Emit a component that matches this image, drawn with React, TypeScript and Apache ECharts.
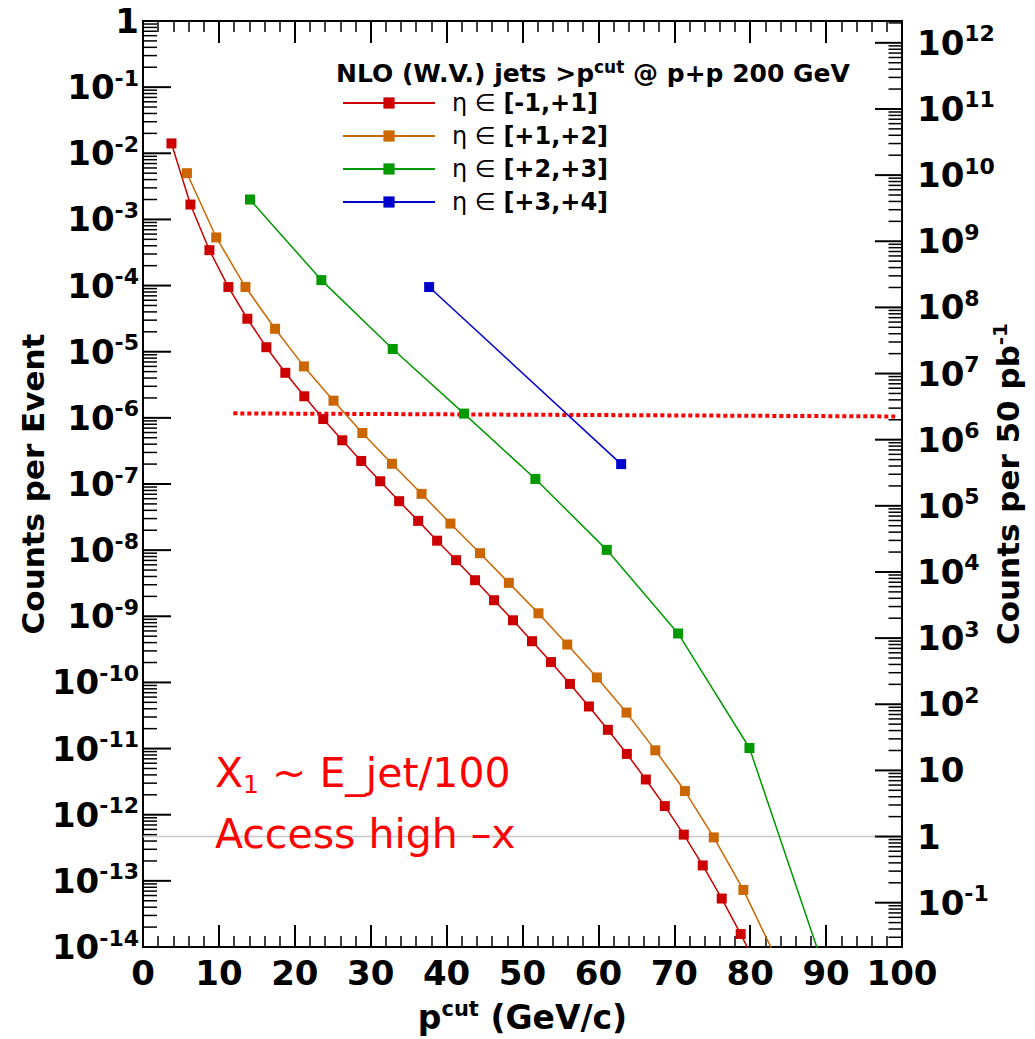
import React, { useEffect, useRef } from 'react';
import * as echarts from 'echarts';

// ---- data (x = p_cut in GeV/c, y = counts per event) ----
const redX = [3.75, 6.25, 8.75, 11.25, 13.75, 16.25, 18.75, 21.25, 23.75, 26.25, 28.75, 31.25, 33.75, 36.25, 38.75, 41.25, 43.75, 46.25, 48.75, 51.25, 53.75, 56.25, 58.75, 61.25, 63.75, 66.25, 68.75, 71.25, 73.75, 76.25, 78.75, 81.25];
const redY = [1.41e-2, 1.68e-3, 3.43e-4, 9.5e-5, 3.15e-5, 1.17e-5, 4.8e-6, 2.12e-6, 9.6e-7, 4.58e-7, 2.23e-7, 1.1e-7, 5.5e-8, 2.77e-8, 1.39e-8, 7.05e-9, 3.51e-9, 1.75e-9, 8.7e-10, 4.2e-10, 2.03e-10, 9.5e-11, 4.33e-11, 1.92e-11, 8.3e-12, 3.41e-12, 1.35e-12, 5.0e-13, 1.71e-13, 5.4e-14, 1.57e-14, 4.2e-15];

const orangeX = [5.79, 9.65, 13.5, 17.4, 21.2, 25.1, 28.9, 32.8, 36.7, 40.5, 44.4, 48.2, 52.1, 55.9, 59.8, 63.7, 67.5, 71.4, 75.2, 79.1, 83.0];
const orangeY = [5.0e-3, 5.34e-4, 9.5e-5, 2.22e-5, 6.0e-6, 1.82e-6, 5.9e-7, 2.02e-7, 7.1e-8, 2.52e-8, 9.0e-9, 3.2e-9, 1.11e-9, 3.74e-10, 1.19e-10, 3.5e-11, 9.4e-12, 2.28e-12, 4.54e-13, 7.3e-14, 8.5e-15];

const greenX = [14.1, 23.5, 32.9, 42.3, 51.7, 61.1, 70.5, 79.9, 89.3];
const greenY = [2.0e-3, 1.21e-4, 1.1e-5, 1.16e-6, 1.19e-7, 1.01e-8, 5.5e-10, 1.02e-11, 6.6e-15];

const blueX = [37.7, 63.0];
const blueY = [9.5e-5, 2.0e-7];

// red dotted threshold line
const dotX = [11.9, 99.1];
const dotY = [1.17e-6, 1.05e-6];

// "1 count" reference line on the right axis
const oneCountX = [0, 100];
const oneCountY = [1, 1];

const seriesNames = ['[-1,+1]', '[+1,+2]', '[+2,+3]', '[+3,+4]'];
const seriesColors = ['#cc0000', '#cc6600', '#009900', '#0000cc'];

const xTickLabels = [0, 10, 20, 30, 40, 50, 60, 70, 80, 90, 100];
const leftDecades = [-14, -13, -12, -11, -10, -9, -8, -7, -6, -5, -4, -3, -2, -1, 0];
const rightDecades = [-1, 0, 1, 2, 3, 4, 5, 6, 7, 8, 9, 10, 11, 12];

const LEFT_MIN = 1e-14;
const LEFT_MAX = 1;
const RIGHT_OFFSET = 12.33; // decades between right and left axes
const RIGHT_MIN = Math.pow(10, -14 + RIGHT_OFFSET);
const RIGHT_MAX = Math.pow(10, RIGHT_OFFSET);

const FONT = 'DejaVu Sans';

const zip = (xs: number[], ys: number[]) => xs.map((x, i) => [x, ys[i]]);

// tick items: [x edge, value, isMajor]
const leftTicks: number[][] = [];
leftDecades.forEach((n) => leftTicks.push([0, Math.pow(10, n), 1]));
for (let n = -14; n < 0; n++) for (let k = 2; k <= 9; k++) leftTicks.push([0, k * Math.pow(10, n), 0]);
const rightTicks: number[][] = [];
rightDecades.forEach((n) => rightTicks.push([100, Math.pow(10, n), 1]));
for (let n = -2; n <= 12; n++)
  for (let k = 2; k <= 9; k++) {
    const v = k * Math.pow(10, n);
    if (v > RIGHT_MIN && v < RIGHT_MAX) rightTicks.push([100, v, 0]);
  }

const decadeLabel = (v: number, right: boolean) => {
  const e = Math.round(Math.log10(v));
  if (e === 0) return '{b|1}';
  if (right && e === 1) return '{b|10}';
  return `{b|10}{s|${e}}`;
};

const labelRich = {
  b: { fontFamily: FONT, fontWeight: 'bold', fontSize: 34, lineHeight: 40, fill: '#000', color: '#000' },
  s: { fontFamily: FONT, fontWeight: 'bold', fontSize: 22, lineHeight: 24, verticalAlign: 'top', fill: '#000', color: '#000' },
};

const makeTickRenderer = (right: boolean) => (_p: any, api: any) => {
  const pt = api.coord([api.value(0), api.value(1)]);
  const major = api.value(2) === 1;
  const dir = right ? -1 : 1;
  const len = major ? (right ? 27 : 28) : right ? 13.5 : 14;
  const children: any[] = [
    {
      type: 'line',
      shape: { x1: pt[0], y1: pt[1], x2: pt[0] + dir * len, y2: pt[1] },
      style: { stroke: '#000', lineWidth: major ? 2 : 1.5 },
    },
  ];
  if (major) {
    children.push({
      type: 'text',
      x: right ? pt[0] + 15 : pt[0] - 4,
      y: pt[1],
      style: {
        text: decadeLabel(api.value(1), right),
        rich: labelRich,
        align: right ? 'left' : 'right',
        verticalAlign: 'middle',
        fill: '#000',
      },
    });
  }
  return { type: 'group', children };
};

export default function App() {
  const ref = useRef<HTMLDivElement>(null);
  useEffect(() => {
    if (!ref.current) return;
    const chart = echarts.init(ref.current, null, { renderer: 'svg' });
    const lineSeries = [
      [redX, redY],
      [orangeX, orangeY],
      [greenX, greenY],
      [blueX, blueY],
    ].map(([xs, ys], i) => ({
      name: seriesNames[i],
      type: 'line',
      data: zip(xs as number[], ys as number[]),
      symbol: 'rect',
      symbolSize: 10,
      showAllSymbol: true,
      clip: true,
      z: 4,
      lineStyle: { color: seriesColors[i], width: 1.5 },
      itemStyle: { color: seriesColors[i] },
    }));

    const axisLineStyle = { color: '#000', width: 2 };
    const xCommon = {
      type: 'value',
      min: 0,
      max: 100,
      interval: 10,
      axisLine: { show: true, onZero: false, lineStyle: axisLineStyle },
      axisTick: { show: true, inside: true, length: 22, lineStyle: { color: '#000', width: 2 } },
      minorTick: { show: true, splitNumber: 5, length: 11, lineStyle: { color: '#000', width: 1.5 } },
      splitLine: { show: false },
      minorSplitLine: { show: false },
    };
    const yCommon = {
      type: 'log',
      logBase: 10,
      axisLine: { show: true, onZero: false, lineStyle: axisLineStyle },
      axisTick: { show: false },
      axisLabel: { show: false },
      minorTick: { show: false },
      splitLine: { show: false },
      nameLocation: 'middle',
      nameRotate: 90,
      nameMoveOverlap: false,
    };

    chart.setOption({
      animation: false,
      backgroundColor: '#fff',
      grid: { left: 143, top: 21, right: 133, bottom: 92, containLabel: false, outerBoundsMode: 'none' },
      title: {
        text: '{b|NLO (W.V.) jets >p}{s|cut}{b| @ p+p 200 GeV}',
        left: 331,
        top: 53,
        textStyle: {
          rich: {
            b: { fontFamily: FONT, fontWeight: 'bold', fontSize: 25, lineHeight: 30, color: '#000' },
            s: { fontFamily: FONT, fontWeight: 'bold', fontSize: 17, lineHeight: 16, verticalAlign: 'top', color: '#000' },
          },
        },
      },
      legend: {
        orient: 'vertical',
        left: 337,
        top: 84,
        itemWidth: 92,
        itemHeight: 14,
        itemGap: 5,
        selectedMode: false,
        data: seriesNames,
        formatter: (n: string) => `{r|η ∈ }{b|${n}}`,
        textStyle: {
          lineHeight: 28,
          rich: {
            r: { fontFamily: FONT, fontSize: 24, lineHeight: 28, color: '#000', padding: [0, 0, 0, 12] },
            b: { fontFamily: FONT, fontWeight: 'bold', fontSize: 24, lineHeight: 28, color: '#000' },
          },
        },
      },
      xAxis: [
        {
          ...xCommon,
          position: 'bottom',
          axisLabel: {
            show: true,
            margin: 9,
            fontFamily: FONT,
            fontWeight: 'bold',
            fontSize: 34,
            color: '#000',
            formatter: (v: number) => (xTickLabels.includes(v) ? String(v) : ''),
          },
          name: '{b|p}{s|cut}{b| (GeV/c)}',
          nameLocation: 'middle',
          nameGap: 51,
          nameMoveOverlap: false,
          nameTextStyle: {
            rich: {
              b: { fontFamily: FONT, fontWeight: 'bold', fontSize: 33, lineHeight: 38, color: '#000' },
              s: { fontFamily: FONT, fontWeight: 'bold', fontSize: 21, lineHeight: 22, verticalAlign: 'top', color: '#000' },
            },
          },
        },
        {
          ...xCommon,
          position: 'top',
          axisLabel: { show: false },
        },
      ],
      yAxis: [
        {
          ...yCommon,
          min: LEFT_MIN,
          max: LEFT_MAX,
          position: 'left',
          name: 'Counts per Event',
          nameGap: 95,
          nameTextStyle: { fontFamily: FONT, fontWeight: 'bold', fontSize: 31, color: '#000' },
        },
        {
          ...yCommon,
          min: RIGHT_MIN,
          max: RIGHT_MAX,
          position: 'right',
          name: '{b|Counts per 50 pb}{s|-1}',
          nameGap: 88,
          nameTextStyle: {
            rich: {
              b: { fontFamily: FONT, fontWeight: 'bold', fontSize: 31, lineHeight: 36, color: '#000' },
              s: { fontFamily: FONT, fontWeight: 'bold', fontSize: 20, lineHeight: 20, verticalAlign: 'top', color: '#000' },
            },
          },
        },
      ],
      graphic: [
        {
          type: 'text',
          left: 215,
          top: 752,
          z: 10,
          style: {
            text: '{m|X}{sub|1}{m| ~ E_jet/100}',
            rich: {
              m: { fontFamily: FONT, fontSize: 41, lineHeight: 48, fill: '#ff0000' },
              sub: { fontFamily: FONT, fontSize: 25, lineHeight: 20, verticalAlign: 'bottom', fill: '#ff0000' },
            },
          },
        },
        {
          type: 'text',
          left: 215,
          top: 813,
          z: 10,
          style: {
            text: 'Access high –x',
            fontFamily: FONT,
            fontSize: 41,
            fill: '#ff0000',
          },
        },
      ],
      series: [
        {
          name: 'one count',
          type: 'line',
          yAxisIndex: 1,
          data: zip(oneCountX, oneCountY),
          symbol: 'none',
          z: 1,
          lineStyle: { color: '#c8c8c8', width: 1.5 },
        },
        {
          name: 'threshold',
          type: 'line',
          data: zip(dotX, dotY),
          symbol: 'none',
          z: 3,
          lineStyle: { color: '#ff0000', width: 4, type: [4, 3] },
        },
        ...lineSeries,
        {
          name: 'leftTicks',
          type: 'custom',
          silent: true,
          data: leftTicks,
          renderItem: makeTickRenderer(false),
        },
        {
          name: 'rightTicks',
          type: 'custom',
          silent: true,
          yAxisIndex: 1,
          data: rightTicks,
          renderItem: makeTickRenderer(true),
        },
      ],
    });
    return () => chart.dispose();
  }, []);
  return <div ref={ref} style={{ position: 'fixed', left: 0, top: 0, width: 1035, height: 1039 }} />;
}
